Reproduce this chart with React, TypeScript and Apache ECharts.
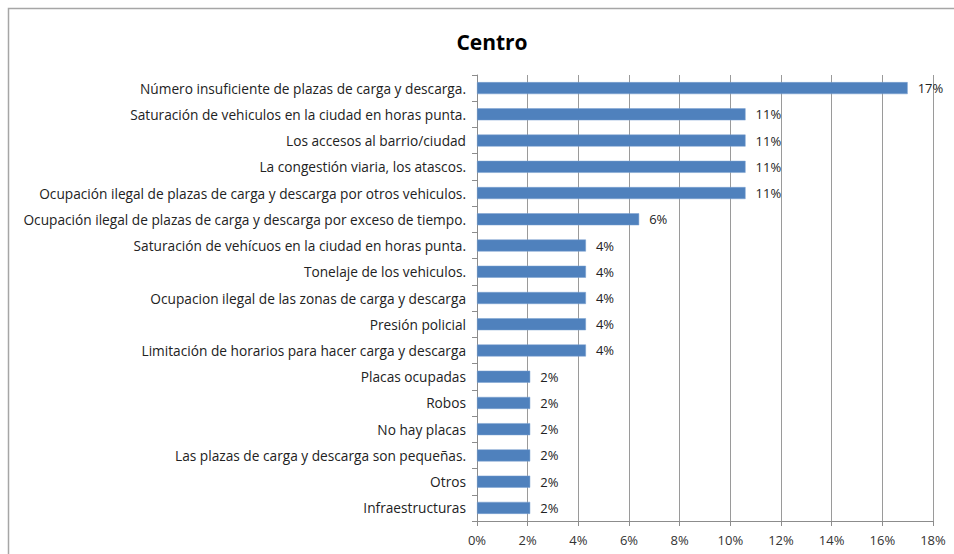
import React, { useEffect, useRef } from "react";
import * as echarts from "echarts";

const categories: string[] = [
  "Número insuficiente de plazas de carga y descarga.",
  "Saturación de vehiculos en la ciudad en horas punta.",
  "Los accesos al barrio/ciudad",
  "La congestión viaria, los atascos.",
  "Ocupación ilegal de plazas de carga y descarga por otros vehiculos.",
  "Ocupación ilegal de plazas de carga y descarga por exceso de tiempo.",
  "Saturación de vehícuos en la ciudad en horas punta.",
  "Tonelaje de los vehiculos.",
  "Ocupacion ilegal de las zonas de carga y descarga",
  "Presión policial",
  "Limitación de horarios para hacer carga y descarga",
  "Placas ocupadas",
  "Robos",
  "No hay placas",
  "Las plazas de carga y descarga son pequeñas.",
  "Otros",
  "Infraestructuras",
];

const values: number[] = [
  17.0, 10.6, 10.6, 10.6, 10.6, 6.4, 4.3, 4.3, 4.3, 4.3, 4.3, 2.1, 2.1, 2.1, 2.1, 2.1, 2.1,
];

const title = "Centro";

export default function App() {
  const ref = useRef<HTMLDivElement>(null);
  useEffect(() => {
    if (!ref.current) return;
    const chart = echarts.init(ref.current, undefined, { renderer: "svg" });
    const font = "'Open Sans', 'Liberation Sans', sans-serif";
    chart.setOption({
      animation: false,
      backgroundColor: "#ffffff",
      title: {
        text: title,
        left: 487,
        top: 26,
        textAlign: "center",
        textStyle: { fontFamily: font, fontSize: 21, fontWeight: "bold", color: "#000" },
      },
      graphic: [
        {
          type: "rect",
          shape: { x: 8.5, y: 8.5, width: 980, height: 600 },
          style: { fill: "none", stroke: "#a6a6a6", lineWidth: 1.5 },
          silent: true,
        },
      ],
      grid: { left: 477, right: 21, top: 75, bottom: 33, containLabel: false },
      xAxis: {
        type: "value",
        min: 0,
        max: 18,
        interval: 2,
        axisLine: { show: true, lineStyle: { color: "#8c8c8c", width: 1 } },
        axisTick: { show: true, length: 5, lineStyle: { color: "#8c8c8c" } },
        splitLine: { show: true, lineStyle: { color: "#9a9a9a", width: 1 } },
        axisLabel: {
          formatter: "{value}%",
          fontFamily: font,
          fontSize: 13,
          color: "#333",
          margin: 12,
        },
      },
      yAxis: {
        type: "category",
        data: categories,
        inverse: true,
        axisLine: { show: true, lineStyle: { color: "#8c8c8c", width: 1 } },
        axisTick: { show: true, length: 5, lineStyle: { color: "#8c8c8c" } },
        axisLabel: { fontFamily: font, fontSize: 13.7, color: "#222", margin: 11 },
      },
      series: [
        {
          type: "bar",
          data: values,
          barWidth: 12,
          itemStyle: { color: "#4f81bd", borderColor: "#7aa0d0", borderWidth: 0.5 },
          label: {
            show: true,
            position: "right",
            distance: 10,
            fontFamily: font,
            fontSize: 13,
            color: "#222",
            formatter: (p: any) => Math.round(p.value) + "%",
          },
        },
      ],
    });
    return () => chart.dispose();
  }, []);
  return (
    <div
      ref={ref}
      style={{ position: "fixed", left: 0, top: 0, width: 954, height: 554 }}
    />
  );
}
